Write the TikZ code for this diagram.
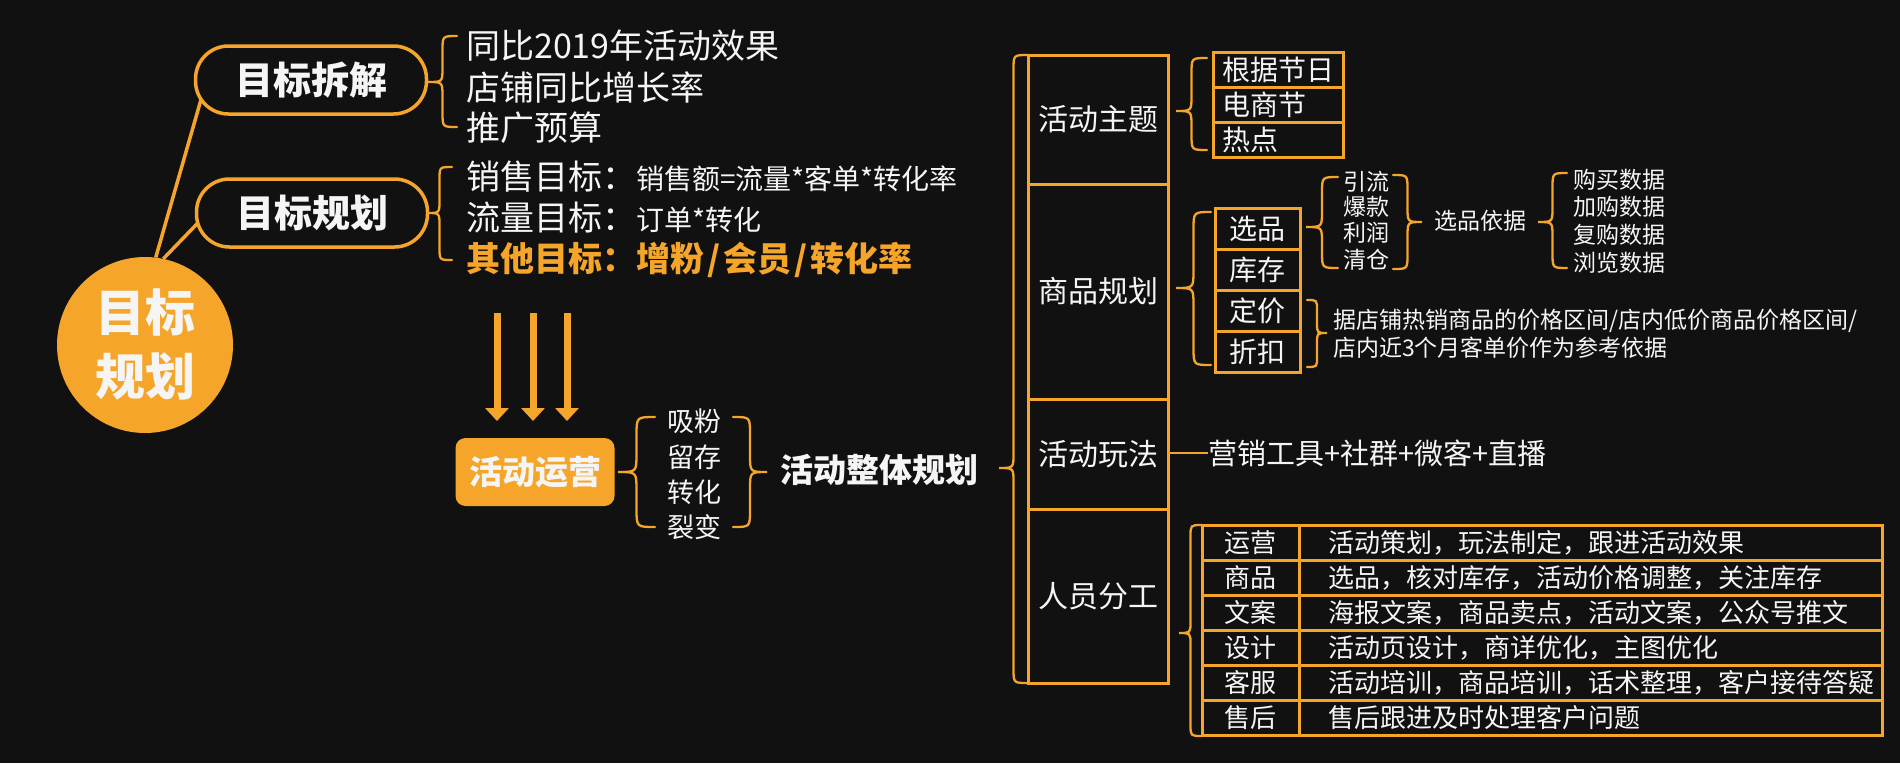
\documentclass[tikz,border=0pt]{standalone}
\usepackage{fontspec}
\setmainfont{Noto Sans CJK SC}
\usetikzlibrary{arrows.meta,calc}
\definecolor{bgc}{HTML}{111111}
\definecolor{org}{HTML}{F5A52A}
\definecolor{wht}{HTML}{F5F5F5}
\pgfdeclarelayer{back}
\pgfsetlayers{back,main}
\newcommand{\mybrace}[5]{% #1 tip x, #2 end x, #3 top y, #4 tip y, #5 bottom y
  \draw[brc] (#2,#3) .. controls ({(#1+#2)/2},#3) .. ({(#1+#2)/2},{#3+abs(#2-#1)/2})
    -- ({(#1+#2)/2},{#4-abs(#2-#1)/2})
    .. controls ({(#1+#2)/2},#4) .. (#1,#4)
    .. controls ({(#1+#2)/2},#4) .. ({(#1+#2)/2},{#4+abs(#2-#1)/2})
    -- ({(#1+#2)/2},{#5-abs(#2-#1)/2})
    .. controls ({(#1+#2)/2},#5) .. (#2,#5);
}
\tikzset{
  brc/.style={draw=org, line width=2.3pt, line cap=round},
  conn/.style={draw=org, line width=3.5pt},
  hub/.style={circle, fill=org, minimum size=176pt, inner sep=0pt, text=wht,
    font=\bfseries\fontsize{50}{64}\selectfont, align=center},
  pill/.style={draw=org, line width=3.5pt, fill=bgc, rounded corners=33pt,
    minimum width=231pt, minimum height=68pt, inner sep=0pt, text=wht,
    font=\bfseries\fontsize{38}{40}\selectfont},
  txt/.style={anchor=west, inner sep=0pt, text=wht},
  ctr/.style={inner sep=0pt, text=wht},
  f34/.style={font=\fontsize{34}{40}\selectfont},
  f29/.style={font=\fontsize{29}{34}\selectfont},
  f27/.style={font=\fontsize{27}{30}\selectfont},
  f23/.style={font=\fontsize{23}{28}\selectfont},
  bigarr/.style={draw=org, line width=7pt, -{Triangle[width=23pt,length=13pt]}},
  opbox/.style={fill=org, rounded corners=10pt, minimum width=159pt, minimum height=68pt,
    inner sep=0pt, text=wht, font=\bfseries\fontsize{33}{36}\selectfont},
  sec/.style={draw=org, line width=3pt, minimum width=140pt, inner sep=0pt, text=wht,
    font=\fontsize{30}{34}\selectfont},
  cella/.style={draw=org, line width=3pt, minimum height=35pt, text width=112pt,
    inner xsep=9pt, inner ysep=0pt, align=left, text=wht, font=\fontsize{28}{32}\selectfont},
  cellb/.style={draw=org, line width=3pt, minimum height=41pt, minimum width=85pt,
    inner sep=0pt, text=wht, font=\fontsize{28}{32}\selectfont},
  tka/.style={draw=org, line width=3pt, minimum height=35pt, minimum width=97pt,
    inner sep=0pt, text=wht, font=\fontsize{26}{30}\selectfont},
  tkb/.style={draw=org, line width=3pt, minimum height=35pt, text width=525pt,
    inner xsep=29pt, inner ysep=0pt, align=left, text=wht, font=\fontsize{26}{30}\selectfont},
}
\begin{document}
\begin{tikzpicture}[x=1pt,y=-1pt]
\begin{pgfonlayer}{back}
\fill[bgc] (0,0) rectangle (1900,763);
\end{pgfonlayer}
\useasboundingbox (0,0) rectangle (1900,763);

% ---- left part ----
\node[hub] (c) at (145,345) {目标\\规划};
\node[pill] (p1) at (311,80) {目标拆解};
\node[pill] (p2) at (312,213) {目标规划};
\begin{pgfonlayer}{back}
\draw[conn] (c.83) -- ($(p1.west)+(8,17)$);
\draw[conn] (c.78) -- ($(p2.west)+(6,7)$);
\end{pgfonlayer}

\mybrace{428}{457}{36}{82}{127}
\node[txt,f34] (g1) at (466,46) {同比2019年活动效果};
\node[txt,f34] (g2) at (466,87) {店铺同比增长率};
\node[txt,f34] (g3) at (466,128) {推广预算};

\mybrace{427}{452}{167}{213}{260}
\node[txt,f34] (h1) at (466,177) {销售目标：{\fontsize{28}{30}\selectfont 销售额=流量*客单*转化率}};
\node[txt,f34] (h2) at (466,218) {流量目标：{\fontsize{28}{30}\selectfont 订单*转化}};
\node[txt,text=org,font=\bfseries\fontsize{34}{40}\selectfont] (h3) at (466,260) {其他目标：增粉\kern3pt/\kern3pt会员\kern3pt/\kern3pt转化率};

% ---- arrows ----
\coordinate (a1s) at (497,313); \coordinate (a1e) at (497,421);
\coordinate (a2s) at (533,313); \coordinate (a2e) at (533,421);
\coordinate (a3s) at (567,313); \coordinate (a3e) at (567,421);
\draw[bigarr] (a1s) -- (a1e);
\draw[bigarr] (a2s) -- (a2e);
\draw[bigarr] (a3s) -- (a3e);

\node[opbox] (op) at (535,472) {活动运营};
\mybrace{618}{655}{417}{472}{527}
\node[ctr,f27] (w1) at (694,421) {吸粉};
\node[ctr,f27] (w2) at (694,457) {留存};
\node[ctr,f27] (w3) at (694,492) {转化};
\node[ctr,f27] (w4) at (694,527) {裂变};
\mybrace{767}{733}{417}{472}{527}
\node[txt,font=\bfseries\fontsize{33}{36}\selectfont] (all) at (780,470) {活动整体规划};

% ---- column ----
\mybrace{999}{1028}{55}{468}{683}
\node[sec,minimum height=129pt] (s1) at (1098,119.5) {活动主题};
\node[sec,minimum height=215pt] (s2) at (1098,291.5) {商品规划};
\node[sec,minimum height=110pt] (s3) at (1098,454) {活动玩法};
\node[sec,minimum height=174pt] (s4) at (1098,596) {人员分工};

% theme stack
\mybrace{1176}{1207}{58}{111}{150}
\node[cella] (t1) at (1278,70) {根据节日};
\node[cella] (t2) at (1278,105) {电商节};
\node[cella] (t3) at (1278,140) {热点};

% product stack
\mybrace{1176}{1211}{212}{288}{365}
\node[cellb] (b1) at (1257.5,228.5) {选品};
\node[cellb] (b2) at (1257.5,269.5) {库存};
\node[cellb] (b3) at (1257.5,310.5) {定价};
\node[cellb] (b4) at (1257.5,351.5) {折扣};

\mybrace{1306}{1338}{177}{227}{268}
\node[ctr,f23] (k1) at (1366,182) {引流};
\node[ctr,f23] (k2) at (1366,207) {爆款};
\node[ctr,f23] (k3) at (1366,233) {利润};
\node[ctr,f23] (k4) at (1366,260) {清仓};
\mybrace{1422}{1393}{175}{222}{269}
\node[txt,f23] (basis) at (1434,221) {选品依据};
\mybrace{1538}{1567}{173}{222}{268}
\node[txt,f23] (d1) at (1573,180) {购买数据};
\node[txt,f23] (d2) at (1573,207) {加购数据};
\node[txt,f23] (d3) at (1573,235) {复购数据};
\node[txt,f23] (d4) at (1573,263) {浏览数据};

\mybrace{1327}{1307}{300}{333}{367}
\node[txt,f23,align=left] (price) at (1333,334) {据店铺热销商品的价格区间/店内低价商品价格区间/\\店内近3个月客单价作为参考依据};

% play
\node[txt,f29] (play) at (1208,453) {营销工具+社群+微客+直播};
\draw[conn,line width=2.5pt] (s3.east |- play.west) -- (play.west);

% staff table
\mybrace{1179}{1202}{525}{633}{736}
\node[tka] (ra1) at (1250.5,542.5) {运营};
\node[tka] (ra2) at (1250.5,577.5) {商品};
\node[tka] (ra3) at (1250.5,612.5) {文案};
\node[tka] (ra4) at (1250.5,647.5) {设计};
\node[tka] (ra5) at (1250.5,682.5) {客服};
\node[tka] (ra6) at (1250.5,717.5) {售后};
\node[tkb] (rb1) at (1590.5,542.5) {活动策划，玩法制定，跟进活动效果};
\node[tkb] (rb2) at (1590.5,577.5) {选品，核对库存，活动价格调整，关注库存};
\node[tkb] (rb3) at (1590.5,612.5) {海报文案，商品卖点，活动文案，公众号推文};
\node[tkb] (rb4) at (1590.5,647.5) {活动页设计，商详优化，主图优化};
\node[tkb] (rb5) at (1590.5,682.5) {活动培训，商品培训，话术整理，客户接待答疑};
\node[tkb] (rb6) at (1590.5,717.5) {售后跟进及时处理客户问题};
\end{tikzpicture}
\end{document}
